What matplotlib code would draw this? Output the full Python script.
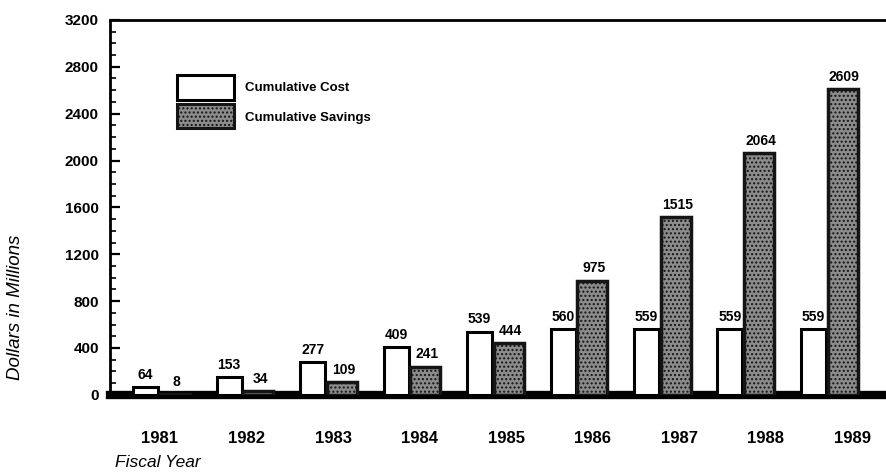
import numpy as np
import matplotlib.pyplot as plt
from matplotlib.patches import Rectangle

plt.rcParams['font.family'] = ['Liberation Sans', 'DejaVu Sans']

years = ['1981', '1982', '1983', '1984', '1985', '1986', '1987', '1988', '1989']
cost = [64, 153, 277, 409, 539, 560, 559, 559, 559]
savings = [8, 34, 109, 241, 444, 975, 1515, 2064, 2609]

x = np.arange(len(years))

fig = plt.figure(figsize=(8.86, 4.74), dpi=100)
ax = fig.add_axes([0.124, 0.167, 0.876, 0.791])

# white cost bars, grey savings bars with a dark outline
ax.bar(x - 0.34, cost, width=0.30, align='edge', color='white',
       edgecolor='black', linewidth=2.2, zorder=3)
ax.bar(x - 0.02, savings, width=0.36, align='edge', color='#8c8c8c',
       edgecolor='#151515', linewidth=2.5, hatch='....', zorder=3)

for i in range(len(years)):
    ax.text(x[i] - 0.19, cost[i] + 45, str(cost[i]), ha='center', va='bottom',
            fontsize=10, fontweight='bold')
    ax.text(x[i] + 0.18, savings[i] + 45, str(savings[i]), ha='center',
            va='bottom', fontsize=10, fontweight='bold')

ax.set_xlim(-0.62, 8.68)
ax.set_ylim(0, 3200)
ax.set_yticks(np.arange(0, 3201, 400))
ax.set_yticks(np.arange(0, 3201, 100), minor=True)
ax.tick_params(axis='y', which='major', direction='in', length=7, width=1.6,
               labelsize=11, pad=8)
ax.tick_params(axis='y', which='minor', direction='in', length=4, width=1.2)
for lab in ax.get_yticklabels():
    lab.set_fontweight('bold')

ax.set_xticks(x * 1.037 - 0.02)
ax.set_xticklabels(years, fontsize=12, fontweight='bold')
ax.tick_params(axis='x', length=0, pad=26)

ax.spines['right'].set_visible(False)
ax.spines['left'].set_linewidth(2)
ax.spines['top'].set_linewidth(2)
ax.spines['bottom'].set_linewidth(6)

fig.text(0.017, 0.352, 'Dollars in Millions', fontsize=13.5, style='italic',
         rotation=90, ha='center', va='center')
fig.text(0.13, 0.025, 'Fiscal Year', fontsize=12.5, style='italic',
         ha='left', va='center')

# legend boxes
lx, lw = 0.19, 0.68
ax.add_patch(Rectangle((lx, 2517), lw, 213, facecolor='white',
                       edgecolor='black', linewidth=2.2, zorder=3))
ax.add_patch(Rectangle((lx, 2278), lw, 205, facecolor='#8c8c8c', hatch='....',
                       edgecolor='#151515', linewidth=2.2, zorder=3))
ax.text(lx + lw + 0.13, 2620, 'Cumulative Cost', fontsize=9.5,
        fontweight='bold', va='center')
ax.text(lx + lw + 0.13, 2364, 'Cumulative Savings', fontsize=9.5,
        fontweight='bold', va='center')

fig.savefig('out.png', dpi=100)
